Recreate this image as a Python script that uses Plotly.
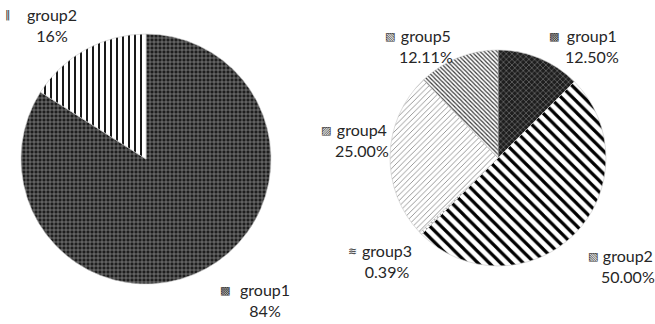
import plotly.graph_objects as go

# ---- data ----
left_labels = ["group1", "group2"]
left_values = [84, 16]
right_labels = ["group1", "group2", "group3", "group4", "group5"]
right_values = [12.50, 50.00, 0.39, 25.00, 12.11]

W, H = 655, 324

left_patterns = dict(
    shape=["+", "|"],
    bgcolor=["#1e1e1e", "white"],
    fgcolor=["#9a9a9a", "black"],
    size=[4, 6],
    solidity=[0.3, 0.3],
    fillmode="replace",
)
right_patterns = dict(
    shape=["x", "\\", "x", "/", "\\"],
    bgcolor=["#1e1e1e", "white", "white", "white", "white"],
    fgcolor=["#8a8a8a", "black", "#444", "#555", "#3a3a3a"],
    size=[4, 8, 4, 4, 3],
    solidity=[0.25, 0.4, 0.3, 0.15, 0.4],
    fillmode="replace",
)

def dom(cx, cy, r):
    return dict(x=[(cx - r) / W, (cx + r) / W], y=[1 - (cy + r) / H, 1 - (cy - r) / H])

fig = go.Figure()
fig.add_trace(go.Pie(
    labels=left_labels, values=left_values, sort=False, direction="clockwise",
    rotation=0, textinfo="none", hoverinfo="label+percent",
    marker=dict(colors=["#1e1e1e", "white"], pattern=left_patterns,
                line=dict(color="#c8c8c8", width=0.6)),
    domain=dom(146, 159, 125), showlegend=False,
))
fig.add_trace(go.Pie(
    labels=right_labels, values=right_values, sort=False, direction="clockwise",
    rotation=0, textinfo="none", hoverinfo="label+percent",
    marker=dict(colors=["#1e1e1e", "white", "white", "white", "white"], pattern=right_patterns,
                line=dict(color="#c8c8c8", width=0.6)),
    domain=dom(498, 158, 108), showlegend=False,
))

FONT = dict(family="Lato, Open Sans, sans-serif", size=16, color="#262626")
SWF = dict(family="DejaVu Sans", size=11, color="#333333")

def pct(vals, dec):
    s = sum(vals)
    return [f"{v / s * 100:.{dec}f}%" for v in vals]

# label layout (text center x, first-line y, swatch x, swatch glyph)
left_pos = {"group1": (265, 290, 225, "▩"), "group2": (52, 15, 8, "‖")}
right_pos = {
    "group1": (592, 36, 554, "▩"),
    "group2": (628, 256, 593, "▧"),
    "group3": (387, 251, 352, "≋"),
    "group4": (362, 130, 326, "▨"),
    "group5": (426, 36, 390, "▧"),
}

anns = []
for labels, vals, dec, pos in [(left_labels, left_values, 0, left_pos),
                                (right_labels, right_values, 2, right_pos)]:
    for lab, p in zip(labels, pct(vals, dec)):
        cx, y, sx, glyph = pos[lab]
        anns.append(dict(x=cx / W, y=1 - y / H, xref="paper", yref="paper",
                         text=f"{lab}<br>{p}", showarrow=False, font=FONT,
                         xanchor="center", yanchor="middle", align="center",
                         yshift=-10))
        anns.append(dict(x=sx / W, y=1 - y / H, xref="paper", yref="paper",
                         text=glyph, showarrow=False, font=SWF,
                         xanchor="center", yanchor="middle"))

fig.update_layout(
    width=W, height=H, margin=dict(l=0, r=0, t=0, b=0),
    paper_bgcolor="white", plot_bgcolor="white", annotations=anns,
)
fig.write_html("out.html")
